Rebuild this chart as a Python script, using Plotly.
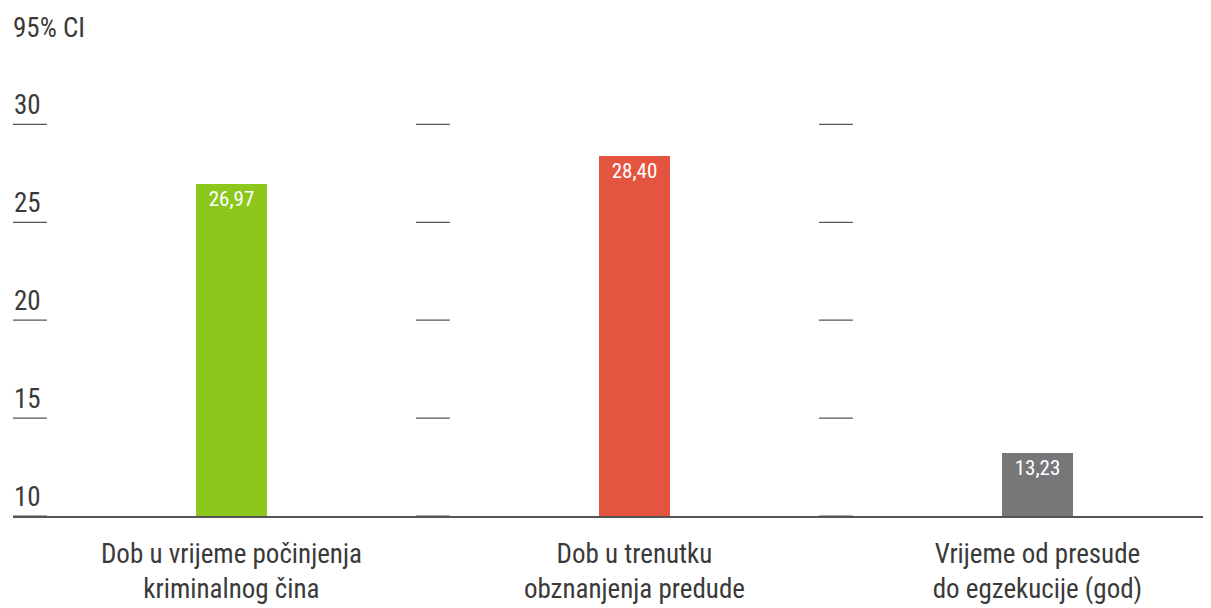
import plotly.graph_objects as go

categories = ["Dob u vrijeme počinjenja<br>kriminalnog čina",
              "Dob u trenutku<br>obznanjenja predude",
              "Vrijeme od presude<br>do egzekucije (god)"]
values = [26.97, 28.40, 13.23]
bar_colors = ["#8DC71E", "#E4553F", "#77777A"]
y_ticks = [10, 15, 20, 25, 30]
y_tick_labels = ["10", "15", "20", "25", "30"]
y_title = "95% CI"

FONT = "Liberation Sans Narrow, Roboto Condensed, DejaVu Sans Condensed, Arial Narrow, sans-serif"
TXT = "#3a3a3a"
LINE = "#555555"

xpos = list(range(len(categories)))
labels = [f"{v:.2f}".replace(".", ",") for v in values]

fig = go.Figure()
fig.add_trace(go.Bar(
    x=xpos, y=values, width=0.178,
    marker=dict(color=bar_colors, line=dict(width=0)),
    text=labels, textposition="inside", insidetextanchor="end",
    textangle=0, textfont=dict(color="white", size=21, family=FONT),
    showlegend=False, hoverinfo="skip",
))

shapes = []
half = 0.042
for b in [-0.5, 0.5, 1.5]:
    for t in y_ticks:
        shapes.append(dict(type="line", xref="x", yref="y",
                           x0=b - half, x1=b + half, y0=t, y1=t,
                           line=dict(color=LINE, width=1.2)))

annotations = []
for t, lab in zip(y_ticks, y_tick_labels):
    annotations.append(dict(xref="x", yref="y", x=-0.542, y=t, text=lab,
                            xanchor="left", yanchor="bottom", showarrow=False,
                            yshift=2, borderpad=0,
                            font=dict(size=27, color=TXT, family=FONT)))
annotations.append(dict(xref="paper", yref="paper", x=0, y=1, text=y_title,
                        xanchor="left", yanchor="bottom", showarrow=False,
                        xshift=-2, yshift=49,
                        font=dict(size=27, color=TXT, family=FONT)))

fig.update_layout(
    width=1203, height=600,
    margin=dict(l=5, r=0, t=87, b=92),
    paper_bgcolor="white", plot_bgcolor="white",
    shapes=shapes, annotations=annotations,
    bargap=0,
    xaxis=dict(range=[-0.542, -0.542 + 1198 / 403], tickvals=xpos,
               ticktext=categories, showgrid=False, zeroline=False,
               showline=True, linecolor=LINE, linewidth=1.5,
               ticks="", ticklabelstandoff=13,
               tickfont=dict(size=27, color=TXT, family=FONT),
               fixedrange=True),
    yaxis=dict(range=[10, 31.5], showgrid=False, zeroline=False,
               showticklabels=False, showline=False, ticks="",
               fixedrange=True),
)

fig.write_html("out.html")
